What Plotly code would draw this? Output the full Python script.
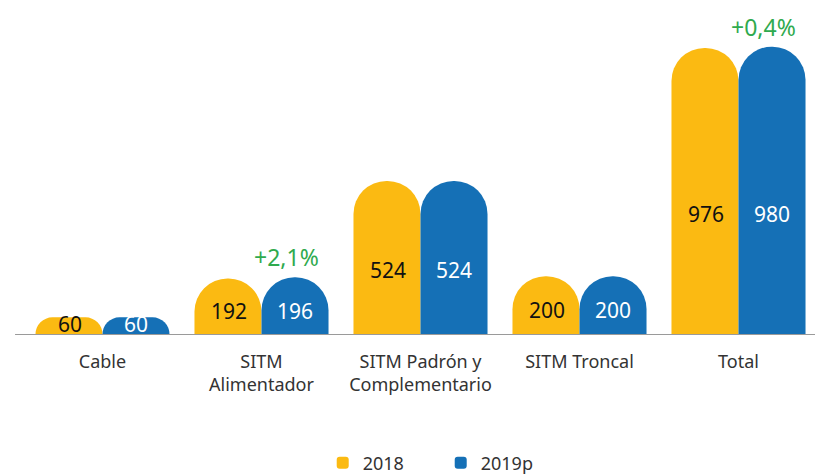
import plotly.graph_objects as go

categories = ["Cable", "SITM<br>Alimentador", "SITM Padrón y<br>Complementario", "SITM Troncal", "Total"]
values_2018 = [60, 192, 524, 200, 976]
values_2019 = [60, 196, 524, 200, 980]
series_names = ["2018", "2019p"]
growth_labels = {1: "+2,1%", 4: "+0,4%"}

YELLOW = "#FBBA12"
BLUE = "#1570B6"
GREEN = "#2FAA4E"
FONT = "Noto Sans"

fig = go.Figure()
fig.add_trace(go.Bar(x=categories, y=values_2018, name=series_names[0],
                     marker=dict(color=YELLOW, line=dict(width=0))))
fig.add_trace(go.Bar(x=categories, y=values_2019, name=series_names[1],
                     marker=dict(color=BLUE, line=dict(width=0))))

annotations = []
for i, cat in enumerate(categories):
    for vals, col, shift in ((values_2018, "#111111", -33), (values_2019, "white", 33)):
        v = vals[i]
        annotations.append(dict(x=cat, y=max(0.42 * v, 37), xref="x", yref="y",
                                text=str(v), showarrow=False, xshift=shift,
                                yanchor="middle",
                                font=dict(family=FONT, size=21, color=col)))
for i, txt in growth_labels.items():
    annotations.append(dict(x=categories[i], y=values_2019[i], xref="x", yref="y",
                            text=txt, showarrow=False, xshift=25, yshift=2,
                            yanchor="bottom",
                            font=dict(family=FONT, size=23, color=GREEN)))

fig.update_layout(
    width=823, height=476,
    margin=dict(l=15, r=13, t=2, b=149, autoexpand=False),
    plot_bgcolor="white", paper_bgcolor="white",
    barmode="group", bargap=0.157, bargroupgap=0,
    barcornerradius="50%",
    font=dict(family=FONT, size=18, color="#333333"),
    showlegend=True,
    legend=dict(orientation="h", x=0.377, xanchor="left", y=-0.394, yanchor="middle",
                font=dict(family=FONT, size=18, color="#333333"),
                entrywidth=73, entrywidthmode="pixels",
                itemwidth=30, tracegroupgap=0),
    annotations=annotations,
    shapes=[dict(type="line", xref="paper", yref="y", x0=-0.01, x1=1.02, y0=0, y1=0,
                 line=dict(color="#9a9a9a", width=2), layer="above")],
)
fig.update_xaxes(showline=False, showgrid=False, zeroline=False, automargin=False,
                 ticks="outside", ticklen=10, tickcolor="rgba(0,0,0,0)",
                 tickfont=dict(family=FONT, size=18, color="#333333"))
fig.update_yaxes(range=[0, 1105], visible=False, showgrid=False, zeroline=False,
                 automargin=False)

fig.write_html("out.html")
